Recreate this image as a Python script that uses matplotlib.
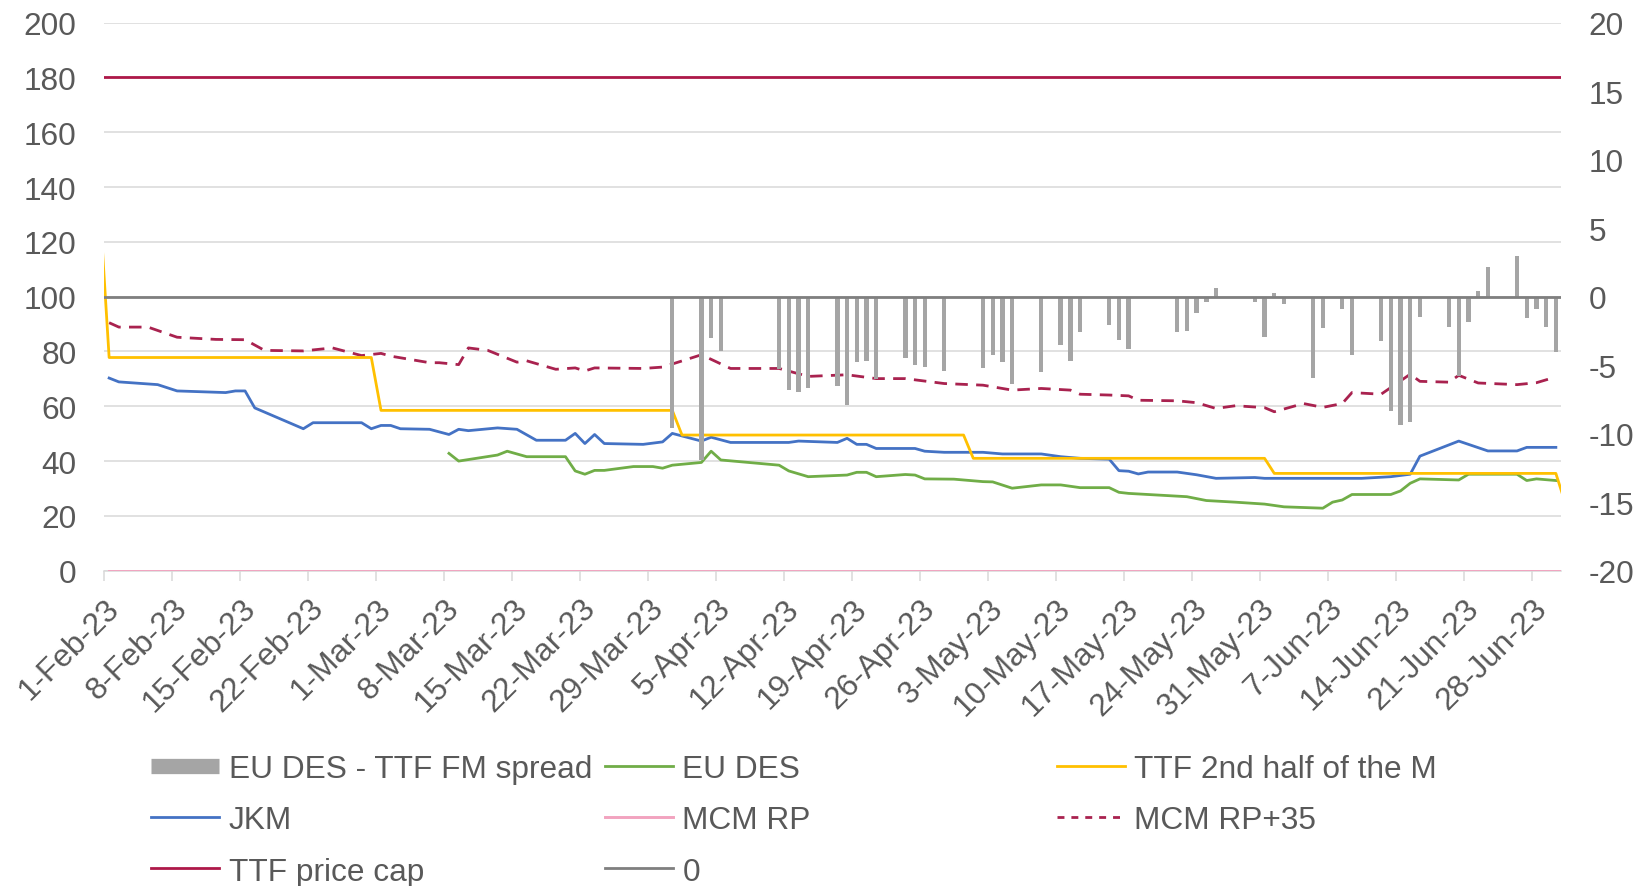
import pandas as pd
import numpy as np
import matplotlib.pyplot as plt
from matplotlib.lines import Line2D

plt.rcParams['font.family'] = ['Liberation Sans', 'DejaVu Sans']
plt.rcParams['axes.unicode_minus'] = False

# EU DES - TTF FM spread (right axis)
spread_dates = ['2023-03-31', '2023-04-03', '2023-04-04', '2023-04-05', '2023-04-11', '2023-04-12',
                '2023-04-13', '2023-04-14', '2023-04-17', '2023-04-18', '2023-04-19', '2023-04-20',
                '2023-04-21', '2023-04-24', '2023-04-25', '2023-04-26', '2023-04-28', '2023-05-02',
                '2023-05-03', '2023-05-04', '2023-05-05', '2023-05-08', '2023-05-10', '2023-05-11',
                '2023-05-12', '2023-05-15', '2023-05-16', '2023-05-17', '2023-05-22', '2023-05-23',
                '2023-05-24', '2023-05-25', '2023-05-26', '2023-05-30', '2023-05-31', '2023-06-01',
                '2023-06-02', '2023-06-05', '2023-06-06', '2023-06-08', '2023-06-09', '2023-06-12',
                '2023-06-13', '2023-06-14', '2023-06-15', '2023-06-16', '2023-06-19', '2023-06-20',
                '2023-06-21', '2023-06-22', '2023-06-23', '2023-06-26', '2023-06-27', '2023-06-28',
                '2023-06-29', '2023-06-30']
spread_vals = [-9.6, -11.9, -3.05, -4.0, -5.26, -6.79,
               -6.96, -6.7, -6.5, -7.9, -4.8, -4.7,
               -6.0, -4.5, -5.0, -5.1, -5.4, -5.2,
               -4.25, -4.8, -6.4, -5.5, -3.5, -4.7,
               -2.6, -2.05, -3.13, -3.8, -2.59, -2.47,
               -1.19, -0.36, 0.61, -0.36, -2.96, 0.25,
               -0.53, -5.95, -2.3, -0.9, -4.24, -3.2,
               -8.31, -9.4, -9.17, -1.5, -2.23, -5.81,
               -1.82, 0.44, 2.14, 2.99, -1.55, -0.9,
               -2.23, -4.06]

# EU DES
eudes_dates = ['2023-03-08', '2023-03-09', '2023-03-13', '2023-03-14', '2023-03-16', '2023-03-20',
               '2023-03-21', '2023-03-22', '2023-03-23', '2023-03-24', '2023-03-27', '2023-03-29',
               '2023-03-30', '2023-03-31', '2023-04-03', '2023-04-04', '2023-04-05', '2023-04-11',
               '2023-04-12', '2023-04-14', '2023-04-18', '2023-04-19', '2023-04-20', '2023-04-21',
               '2023-04-24', '2023-04-25', '2023-04-26', '2023-04-29', '2023-05-02', '2023-05-03',
               '2023-05-05', '2023-05-08', '2023-05-10', '2023-05-12', '2023-05-15', '2023-05-16',
               '2023-05-17', '2023-05-23', '2023-05-25', '2023-05-28', '2023-05-31', '2023-06-02',
               '2023-06-06', '2023-06-07', '2023-06-08', '2023-06-09', '2023-06-13', '2023-06-14',
               '2023-06-15', '2023-06-16', '2023-06-20', '2023-06-21', '2023-06-26', '2023-06-27',
               '2023-06-28', '2023-06-30']
eudes_vals = [42.8, 40.0, 42.2, 43.6, 41.6, 41.6,
              36.4, 35.2, 36.6, 36.6, 38.0, 38.0,
              37.4, 38.5, 39.5, 43.6, 40.4, 38.5,
              36.4, 34.3, 34.9, 35.9, 35.9, 34.3,
              35.1, 34.9, 33.5, 33.4, 32.5, 32.4,
              30.1, 31.3, 31.3, 30.3, 30.3, 28.6,
              28.2, 27.0, 25.6, 25.0, 24.3, 23.3,
              22.8, 25.0, 25.8, 27.8, 27.8, 29.1,
              31.9, 33.5, 33.1, 35.2, 35.2, 32.9,
              33.5, 32.9]

# TTF 2nd half of the M
ttf_dates = ['2023-01-31', '2023-02-01', '2023-02-28', '2023-03-01', '2023-03-31', '2023-04-01',
             '2023-04-30', '2023-05-01', '2023-05-31', '2023-06-01', '2023-06-30', '2023-07-01']
ttf_vals = [135.0, 77.8, 77.8, 58.5, 58.5, 49.5,
            49.5, 41.0, 41.0, 35.5, 35.5, 24.3]

# JKM
jkm_dates = ['2023-02-01', '2023-02-02', '2023-02-06', '2023-02-08', '2023-02-13', '2023-02-14',
             '2023-02-15', '2023-02-16', '2023-02-21', '2023-02-22', '2023-02-27', '2023-02-28',
             '2023-03-01', '2023-03-02', '2023-03-03', '2023-03-06', '2023-03-08', '2023-03-09',
             '2023-03-10', '2023-03-13', '2023-03-15', '2023-03-17', '2023-03-20', '2023-03-21',
             '2023-03-22', '2023-03-23', '2023-03-24', '2023-03-28', '2023-03-30', '2023-03-31',
             '2023-04-03', '2023-04-04', '2023-04-06', '2023-04-12', '2023-04-13', '2023-04-17',
             '2023-04-18', '2023-04-19', '2023-04-20', '2023-04-21', '2023-04-25', '2023-04-26',
             '2023-04-28', '2023-05-02', '2023-05-04', '2023-05-08', '2023-05-10', '2023-05-12',
             '2023-05-15', '2023-05-16', '2023-05-17', '2023-05-18', '2023-05-19', '2023-05-22',
             '2023-05-24', '2023-05-26', '2023-05-30', '2023-05-31', '2023-06-10', '2023-06-13',
             '2023-06-15', '2023-06-16', '2023-06-20', '2023-06-23', '2023-06-26', '2023-06-27',
             '2023-06-30']
jkm_vals = [70.3, 68.9, 67.9, 65.6, 65.0, 65.6,
            65.6, 59.4, 51.8, 54.0, 54.0, 51.8,
            53.0, 53.0, 51.8, 51.6, 49.7, 51.6,
            51.1, 52.1, 51.6, 47.6, 47.6, 50.1,
            46.4, 49.7, 46.4, 46.1, 47.0, 50.1,
            47.3, 48.7, 46.8, 46.8, 47.3, 46.8,
            48.3, 46.1, 46.1, 44.6, 44.6, 43.6,
            43.2, 43.2, 42.6, 42.6, 41.6, 41.0,
            40.7, 36.5, 36.3, 35.3, 36.0, 36.0,
            35.0, 33.7, 34.0, 33.7, 33.7, 34.3,
            35.2, 41.8, 47.3, 43.7, 43.7, 45.0,
            45.0]

# MCM RP+35
mcm35_dates = ['2023-02-01', '2023-02-02', '2023-02-05', '2023-02-08', '2023-02-12', '2023-02-15',
               '2023-02-17', '2023-02-21', '2023-02-24', '2023-02-27', '2023-03-01', '2023-03-02',
               '2023-03-06', '2023-03-07', '2023-03-09', '2023-03-10', '2023-03-12', '2023-03-15',
               '2023-03-16', '2023-03-19', '2023-03-21', '2023-03-22', '2023-03-23', '2023-03-28',
               '2023-03-30', '2023-04-03', '2023-04-06', '2023-04-11', '2023-04-14', '2023-04-18',
               '2023-04-21', '2023-04-24', '2023-04-28', '2023-05-02', '2023-05-05', '2023-05-08',
               '2023-05-11', '2023-05-12', '2023-05-15', '2023-05-17', '2023-05-18', '2023-05-22',
               '2023-05-24', '2023-05-26', '2023-05-28', '2023-05-31', '2023-06-01', '2023-06-04',
               '2023-06-06', '2023-06-08', '2023-06-09', '2023-06-12', '2023-06-15', '2023-06-16',
               '2023-06-19', '2023-06-20', '2023-06-22', '2023-06-26', '2023-06-28', '2023-06-30']
mcm35_vals = [90.5, 88.9, 88.9, 85.2, 84.4, 84.3,
              80.4, 80.2, 81.3, 78.5, 79.3, 78.3,
              75.9, 75.9, 75.2, 81.3, 80.4, 76.1,
              76.6, 73.5, 74.0, 72.9, 74.0, 73.8,
              74.3, 78.8, 73.8, 73.8, 70.9, 71.5,
              70.1, 70.1, 68.3, 67.7, 65.9, 66.5,
              65.9, 64.4, 64.1, 63.8, 62.2, 62.0,
              61.3, 59.2, 60.2, 59.5, 58.0, 61.0,
              59.6, 61.0, 65.0, 64.4, 71.7, 69.1,
              68.8, 71.3, 68.5, 67.9, 68.6, 70.7]

# flat reference lines
mcm_rp_dates = ['2023-02-01', '2023-07-01']
mcm_rp = [0, 0]
flat_dates = ['2023-01-31', '2023-07-01']
price_cap = [180, 180]
zero_line = [0, 0]

x_ticks = pd.date_range('2023-02-01', '2023-06-28', freq='7D')

TEXT = '#595959'
FS = 22.8
noon = pd.Timedelta(hours=12)


def to_x(dates):
    return pd.to_datetime(dates) + noon


fig = plt.figure(figsize=(16.37, 8.87), dpi=100)
ax = fig.add_axes([0.0637, 0.3555, 0.8897, 0.6178])
ax2 = ax.twinx()

# primary axis lines
ax.plot(to_x(mcm_rp_dates), mcm_rp, color='#F2A3BF', lw=2.1, zorder=3)
ax.plot(to_x(flat_dates), price_cap, color='#AE1849', lw=2.0, zorder=3)
ax.plot(to_x(mcm35_dates), mcm35_vals, color='#A9224F', lw=2.0, dashes=(4.5, 3), zorder=3)
ax.plot(to_x(eudes_dates), eudes_vals, color='#70AD47', lw=2.0, zorder=3)
ax.plot(to_x(jkm_dates), jkm_vals, color='#4472C4', lw=2.0, zorder=3)
ax.plot(to_x(ttf_dates), ttf_vals, color='#FFC000', lw=2.0, zorder=3)

# secondary axis: bars and zero line
ax2.bar(to_x(spread_dates), spread_vals, width=0.45, color='#A5A5A5', zorder=2)
ax2.plot(to_x(flat_dates), zero_line, color='#7F7F7F', lw=2.0, zorder=3)

ax.set_xlim(pd.Timestamp('2023-02-01'), pd.Timestamp('2023-07-01'))
ax.set_ylim(0, 200)
ax.set_yticks(np.arange(0, 201, 20))
ax2.set_ylim(-20, 20)
ax2.set_yticks(np.arange(-20, 21, 5))

ax.grid(axis='y', color='#D9D9D9', lw=1.1, zorder=0)
ax.set_axisbelow(True)

for a in (ax, ax2):
    for s in ('top', 'left', 'right'):
        a.spines[s].set_visible(False)
ax.spines['bottom'].set_color('#D9D9D9')
ax.spines['bottom'].set_linewidth(1.1)
ax2.spines['bottom'].set_visible(False)

ax.set_xticks(x_ticks)
ax.set_xticklabels([f"{d.day}-{d.strftime('%b-%y')}" for d in x_ticks],
                   rotation=45, ha='right', va='top', rotation_mode='anchor')
ax.tick_params(axis='x', length=7, width=1.1, color='#D9D9D9', labelsize=FS,
               labelcolor=TEXT, pad=9)
ax.tick_params(axis='y', length=0, labelsize=FS, labelcolor=TEXT, pad=20)
ax2.tick_params(axis='y', length=0, labelsize=FS, labelcolor=TEXT, pad=20)

# legend in three columns like the original
h_spread = Line2D([], [], color='#A5A5A5', lw=11, solid_capstyle='butt')
h_eudes = Line2D([], [], color='#70AD47', lw=2.0)
h_ttf = Line2D([], [], color='#FFC000', lw=2.0)
h_jkm = Line2D([], [], color='#4472C4', lw=2.0)
h_mcm = Line2D([], [], color='#F2A3BF', lw=2.1)
h_mcm35 = Line2D([], [], color='#A9224F', lw=2.0, dashes=(2.5, 2.5))
h_cap = Line2D([], [], color='#AE1849', lw=2.0)
h_zero = Line2D([], [], color='#7F7F7F', lw=2.0)

columns = [
    (0.0922, [h_spread, h_jkm, h_cap], ['EU DES - TTF FM spread', 'JKM', 'TTF price cap']),
    (0.3695, [h_eudes, h_mcm, h_zero], ['EU DES', 'MCM RP', '0']),
    (0.6455, [h_ttf, h_mcm35], ['TTF 2nd half of the M', 'MCM RP+35']),
]
for xpos, hs, ls in columns:
    leg = fig.legend(hs, ls, loc='upper left', bbox_to_anchor=(xpos, 0.1487),
                     frameon=False, fontsize=FS, handlelength=2.15, handletextpad=0.3,
                     labelspacing=0.67, borderpad=0, borderaxespad=0)
    for t in leg.get_texts():
        t.set_color(TEXT)

fig.savefig('out.png', dpi=100)
